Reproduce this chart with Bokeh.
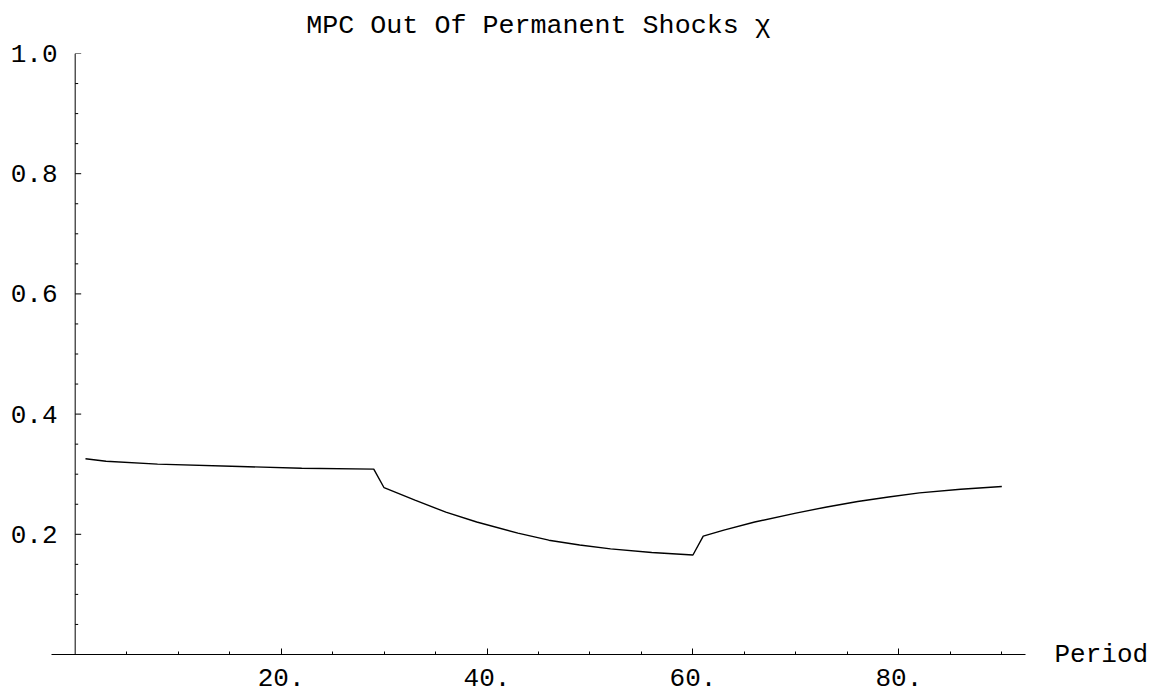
from bokeh.plotting import figure
from bokeh.models import FixedTicker, PrintfTickFormatter, Range1d, LinearAxis, Span
from bokeh.embed import file_html
from bokeh.resources import INLINE

# --- data ---
period = [1, 3, 8, 16, 22, 29,
          30, 33, 36, 39, 43, 46, 49, 52, 56, 60,
          61, 63, 66, 70, 73, 76, 79, 82, 86, 90]
mpc = [0.3256, 0.3215, 0.3168, 0.3128, 0.3100, 0.3085,
       0.2775, 0.2570, 0.2368, 0.2205, 0.2020, 0.1902, 0.1822, 0.1758, 0.1698, 0.1655,
       0.1970, 0.2070, 0.2205, 0.2352, 0.2455, 0.2546, 0.2620, 0.2690, 0.2750, 0.2795]

x_ticks = [20, 40, 60, 80]
x_minor = [5, 10, 15, 25, 30, 35, 45, 50, 55, 65, 70, 75, 85, 90]
y_ticks = [0.2, 0.4, 0.6, 0.8, 1.0]
y_minor = [0.05, 0.1, 0.15, 0.25, 0.3, 0.35, 0.45, 0.5, 0.55,
           0.65, 0.7, 0.75, 0.85, 0.9, 0.95]

title_text = "MPC Out Of Permanent Shocks \u03c7"
x_label = "Period"

FONT = "Liberation Mono"
FS = "26px"

p = figure(frame_width=974, frame_height=601,
           x_range=Range1d(-2.3, 92.3), y_range=Range1d(0, 1.0),
           output_backend="svg", toolbar_location=None,
           min_border_left=51, min_border_right=126,
           min_border_top=53, min_border_bottom=44,
           title=title_text)

p.title.text_font = FONT
p.title.text_font_size = "26.7px"
p.title.text_font_style = "normal"
p.title.align = "center"
p.title.vertical_align = "top"
p.title.standoff = 21
p.title.text_color = "black"

p.grid.visible = False
p.outline_line_color = None
p.background_fill_color = "white"
p.border_fill_color = "white"

# x axis (at y = 0, bottom of the frame)
xa = p.xaxis[0]
xa.ticker = FixedTicker(ticks=x_ticks, minor_ticks=x_minor)
xa.formatter = PrintfTickFormatter(format="%d.")
xa.axis_line_color = "black"
xa.major_tick_in = 6
xa.major_tick_out = 0
xa.minor_tick_in = 3
xa.minor_tick_out = 0
xa.major_tick_line_color = "black"
xa.minor_tick_line_color = "black"
xa.major_label_text_font = FONT
xa.major_label_text_font_size = FS
xa.major_label_text_color = "black"
xa.major_label_standoff = 14

# y axis: labels from the library axis, line and ticks drawn at x = 0
ya = p.yaxis[0]
ya.ticker = FixedTicker(ticks=y_ticks)
ya.formatter = PrintfTickFormatter(format="%.1f")
ya.axis_line_color = None
ya.major_tick_line_color = None
ya.minor_tick_line_color = None
ya.major_tick_in = 0
ya.major_tick_out = 0
ya.major_label_text_font = FONT
ya.major_label_text_font_size = FS
ya.major_label_text_color = "black"
ya.major_label_standoff = -6

p.add_layout(Span(location=0, dimension="height", line_color="black", line_width=1))
p.ray(x=[0] * len(y_ticks), y=y_ticks, length=6, length_units="screen", angle=0,
      line_color="black", line_width=1)
p.ray(x=[0] * len(y_minor), y=y_minor, length=3, length_units="screen", angle=0,
      line_color="black", line_width=1)

# "Period" written at the right end of the x axis
ra = LinearAxis(ticker=FixedTicker(ticks=[0]), major_label_overrides={0: x_label},
                axis_line_color=None, major_tick_line_color=None,
                minor_tick_line_color=None, major_tick_in=0, major_tick_out=0,
                major_label_standoff=29, major_label_text_font=FONT,
                major_label_text_font_size=FS, major_label_text_color="black")
p.add_layout(ra, "right")

p.line(period, mpc, line_color="black", line_width=1.4)

open("out.html", "w").write(file_html(p, INLINE))
